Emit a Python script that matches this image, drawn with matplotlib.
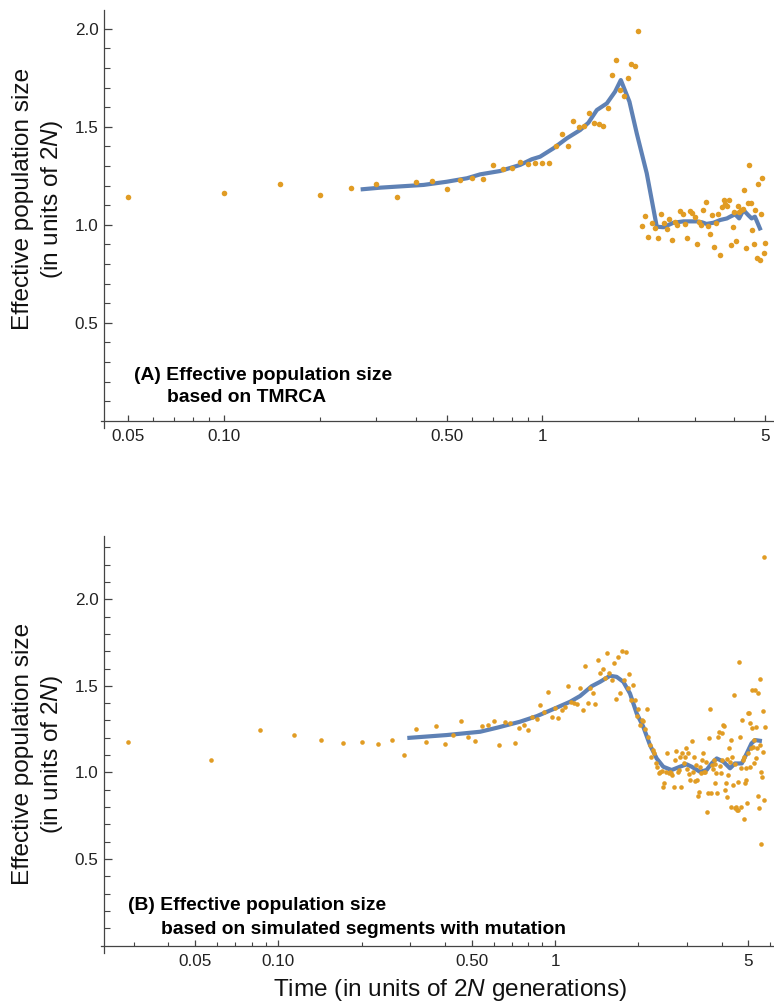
import numpy as np
import matplotlib
matplotlib.use("Agg")
import matplotlib.pyplot as plt
from matplotlib.ticker import FixedLocator, FixedFormatter, NullFormatter

plt.rcParams['font.family'] = ['Liberation Sans', 'DejaVu Sans']
plt.rcParams['mathtext.fontset'] = 'custom'
plt.rcParams['mathtext.rm'] = 'Liberation Sans'
plt.rcParams['mathtext.it'] = 'Liberation Sans:italic'

# ---------------- data ----------------
# (A) estimates from TMRCA, sampled every 0.05 time units
time_a = np.round(np.arange(1, 101) * 0.05, 2)
ne_a = [1.140, 1.163, 1.206, 1.153, 1.189, 1.206, 1.143, 1.219, 1.223, 1.184,
        1.230, 1.237, 1.232, 1.305, 1.286, 1.288, 1.322, 1.311, 1.313, 1.316,
        1.313, 1.403, 1.461, 1.403, 1.527, 1.498, 1.505, 1.568, 1.520, 1.514,
        1.504, 1.595, 1.765, 1.842, 1.686, 1.657, 1.750, 1.822, 1.811, 1.987,
        0.993, 1.044, 0.939, 1.010, 0.981, 0.934, 1.055, 1.007, 0.978, 1.031,
        0.924, 1.015, 0.997, 1.072, 1.053, 1.005, 0.934, 1.070, 1.058, 1.041,
        0.902, 1.015, 0.997, 1.073, 1.118, 0.993, 0.951, 1.051, 0.886, 1.010,
        1.053, 0.844, 1.089, 1.126, 1.104, 1.097, 1.126, 0.898, 0.990, 1.066,
        0.919, 1.097, 1.063, 1.073, 1.082, 1.179, 0.881, 1.109, 1.303, 1.111,
        0.973, 0.903, 1.073, 0.832, 1.208, 0.818, 1.056, 1.237, 0.857, 0.907]

# smoothed curve for (A)
smooth_a_t = [0.273, 0.31, 0.424, 0.50, 0.58, 0.638, 0.737, 0.851, 0.926, 0.983,
              1.083, 1.193, 1.313, 1.393, 1.481, 1.592, 1.69, 1.761, 1.874, 1.976,
              2.124, 2.283, 2.395, 2.575, 2.77, 3.05, 3.17, 3.27, 3.44, 3.61,
              3.79, 3.88, 4.02, 4.14, 4.27, 4.42, 4.53, 4.64, 4.81]
smooth_a = [1.181, 1.189, 1.203, 1.219, 1.237, 1.257, 1.274, 1.305, 1.334, 1.347,
            1.390, 1.441, 1.483, 1.520, 1.585, 1.619, 1.679, 1.738, 1.628, 1.466,
            1.262, 0.990, 0.987, 1.010, 1.017, 1.017, 1.012, 1.004, 1.010, 1.024,
            1.032, 1.041, 1.053, 1.032, 1.075, 1.049, 1.032, 1.041, 0.981]

# (B) estimates from simulated segments with mutation, sampled every 1/35
time_b = np.arange(1, 202) / 35.0
ne_b = [1.174, 1.071, 1.243, 1.218, 1.189, 1.172, 1.175, 1.162, 1.185, 1.102,
        1.249, 1.175, 1.266, 1.166, 1.214, 1.298, 1.204, 1.179, 1.270, 1.274,
        1.295, 1.158, 1.289, 1.287, 1.170, 1.258, 1.272, 1.243, 1.320, 1.306,
        1.391, 1.350, 1.466, 1.318, 1.370, 1.312, 1.360, 1.377, 1.499, 1.408,
        1.399, 1.393, 1.487, 1.358, 1.612, 1.400, 1.487, 1.458, 1.396, 1.649,
        1.575, 1.595, 1.547, 1.691, 1.572, 1.533, 1.633, 1.425, 1.664, 1.456,
        1.702, 1.531, 1.695, 1.489, 1.568, 1.416, 1.504, 1.420, 1.324, 1.366,
        1.273, 1.302, 1.298, 1.249, 1.364, 1.202, 1.158, 1.091, 1.129, 1.110,
        1.052, 1.033, 0.998, 1.004, 1.010, 0.917, 0.937, 1.004, 1.110, 0.995,
        1.004, 0.995, 0.985, 0.917, 1.071, 1.125, 1.000, 1.014, 1.091, 0.914,
        1.110, 1.052, 1.091, 1.139, 1.020, 1.110, 0.990, 0.956, 1.181, 1.000,
        1.091, 0.952, 1.043, 0.956, 0.864, 0.889, 1.030, 0.995, 1.071, 1.110,
        1.000, 1.004, 1.062, 0.774, 0.883, 1.200, 1.364, 0.883, 1.043, 1.020,
        1.071, 0.937, 1.050, 0.995, 0.883, 1.206, 1.235, 1.040, 0.995, 1.071,
        1.225, 1.273, 1.267, 0.898, 0.937, 1.080, 0.860, 0.985, 1.139, 1.060,
        1.187, 0.803, 1.091, 0.927, 1.450, 0.793, 1.050, 0.803, 0.783, 0.947,
        0.783, 1.639, 1.206, 0.803, 1.024, 1.302, 1.070, 0.730, 1.091, 0.937,
        1.024, 0.956, 0.822, 1.341, 1.110, 1.345, 1.033, 1.287, 1.139, 1.254,
        1.475, 1.148, 1.052, 1.187, 1.475, 1.081, 1.264, 1.139, 0.864, 1.460,
        0.793, 1.158, 1.537, 0.585, 1.004, 0.975, 1.120, 1.354, 2.244, 0.840, 1.264]

smooth_b_t = [0.2976, 0.406, 0.536, 0.616, 0.7475, 0.859, 1.0, 1.133, 1.231, 1.357,
              1.454, 1.58, 1.67, 1.766, 1.866, 1.973, 2.084, 2.204, 2.33, 2.462,
              2.639, 2.828, 2.99, 3.12, 3.34, 3.53, 3.68, 3.84, 4.06, 4.29,
              4.47, 4.73, 4.93, 5.13, 5.28, 5.50]
smooth_b = [1.200, 1.216, 1.235, 1.258, 1.293, 1.325, 1.370, 1.408, 1.441, 1.498,
            1.523, 1.558, 1.552, 1.523, 1.456, 1.341, 1.264, 1.158, 1.081, 1.033,
            1.014, 1.033, 1.047, 1.033, 1.004, 1.014, 1.052, 1.081, 1.062, 1.024,
            1.052, 1.052, 1.110, 1.168, 1.187, 1.183]

x_major = [0.05, 0.1, 0.5, 1, 5]
x_major_labels = ["0.05", "0.10", "0.50", "1", "5"]
x_minor = [0.02, 0.03, 0.04, 0.06, 0.07, 0.08, 0.09, 0.2, 0.3, 0.4,
           0.6, 0.7, 0.8, 0.9, 2, 3, 4, 6, 7]
y_major = [0.5, 1.0, 1.5, 2.0]
y_major_labels = ["0.5", "1.0", "1.5", "2.0"]
y_minor_a = [0.1, 0.2, 0.3, 0.4, 0.6, 0.7, 0.8, 0.9, 1.1, 1.2, 1.3, 1.4,
             1.6, 1.7, 1.8, 1.9]
y_minor_b = y_minor_a + [2.1, 2.2, 2.3]

DOT = '#E19C24'
LINE = '#5E81B5'
AXC = '#444444'
W, H = 774, 1007

fig = plt.figure(figsize=(W / 100, H / 100), dpi=100)


def style_axis(ax, xlim, ylim, yspine_x, y_minor):
    ax.set_xscale('log')
    ax.set_xlim(*xlim)
    ax.set_ylim(*ylim)
    for s in ('top', 'right'):
        ax.spines[s].set_visible(False)
    ax.spines['bottom'].set_position(('data', 0))
    ax.spines['left'].set_position(('data', yspine_x))
    for s in ('bottom', 'left'):
        ax.spines[s].set_color(AXC)
        ax.spines[s].set_linewidth(0.9)
    ax.xaxis.set_major_locator(FixedLocator(x_major))
    ax.xaxis.set_major_formatter(FixedFormatter(x_major_labels))
    ax.xaxis.set_minor_locator(FixedLocator(x_minor))
    ax.xaxis.set_minor_formatter(NullFormatter())
    ax.yaxis.set_major_locator(FixedLocator(y_major))
    ax.yaxis.set_major_formatter(FixedFormatter(y_major_labels))
    ax.yaxis.set_minor_locator(FixedLocator(y_minor))
    ax.yaxis.set_minor_formatter(NullFormatter())
    ax.tick_params(axis='x', which='major', direction='in', length=4.3, width=0.9,
                   color=AXC, labelsize=12.3, labelcolor='#222222', pad=6)
    ax.tick_params(axis='x', which='minor', direction='in', length=2.6, width=0.8, color=AXC)
    ax.tick_params(axis='y', which='major', direction='in', length=5.5, width=0.9,
                   color=AXC, labelsize=12.3, labelcolor='#222222', pad=4)
    ax.tick_params(axis='y', which='minor', direction='in', length=4.0, width=0.8, color=AXC)
    ax.patch.set_alpha(0)


def px_axes(x0, y0, x1, y1):
    return fig.add_axes([x0 / W, 1 - y1 / H, (x1 - x0) / W, (y1 - y0) / H])


# ---- panel A ----
axA = px_axes(101, 10, 774, 428)
style_axis(axA, (0.04122, 5.325), (-0.0372, 2.0954), 0.04212, y_minor_a)
axA.plot(smooth_a_t, smooth_a, color=LINE, lw=3.0, solid_joinstyle='round', zorder=2)
axA.plot(time_a, ne_a, 'o', color=DOT, ms=4.0, mec='none', zorder=3)

# ---- panel B ----
axB = px_axes(101, 536, 774, 953)
style_axis(axB, (0.02286, 6.186), (-0.0421, 2.365), 0.02345, y_minor_b)
axB.plot(smooth_b_t, smooth_b, color=LINE, lw=3.0, solid_joinstyle='round', zorder=2)
axB.plot(time_b, ne_b, 'o', color=DOT, ms=3.3, mec='none', zorder=3)

# ---- labels ----
ylab = "Effective population size\n(in units of 2$N$)"
for yc in (199, 754):
    fig.text(38.5 / W, 1 - yc / H, ylab, rotation=90, ha='center', va='center',
             multialignment='center', fontsize=17.6, color='#111111', linespacing=1.25)

fig.text(450 / W, 1 - 990 / H, "Time (in units of 2$N$ generations)", ha='center',
         va='center', fontsize=17.6, color='#111111')

notes = [(134, 375, "(A) Effective population size"),
         (167, 398, "based on TMRCA"),
         (128, 906, "(B) Effective population size"),
         (161, 929, "based on simulated segments with mutation")]
for xp, yp, s in notes:
    fig.text(xp / W, 1 - yp / H, s, ha='left', va='center', fontsize=13.9,
             fontweight='bold', color='black')

fig.savefig("out.png", dpi=100)
